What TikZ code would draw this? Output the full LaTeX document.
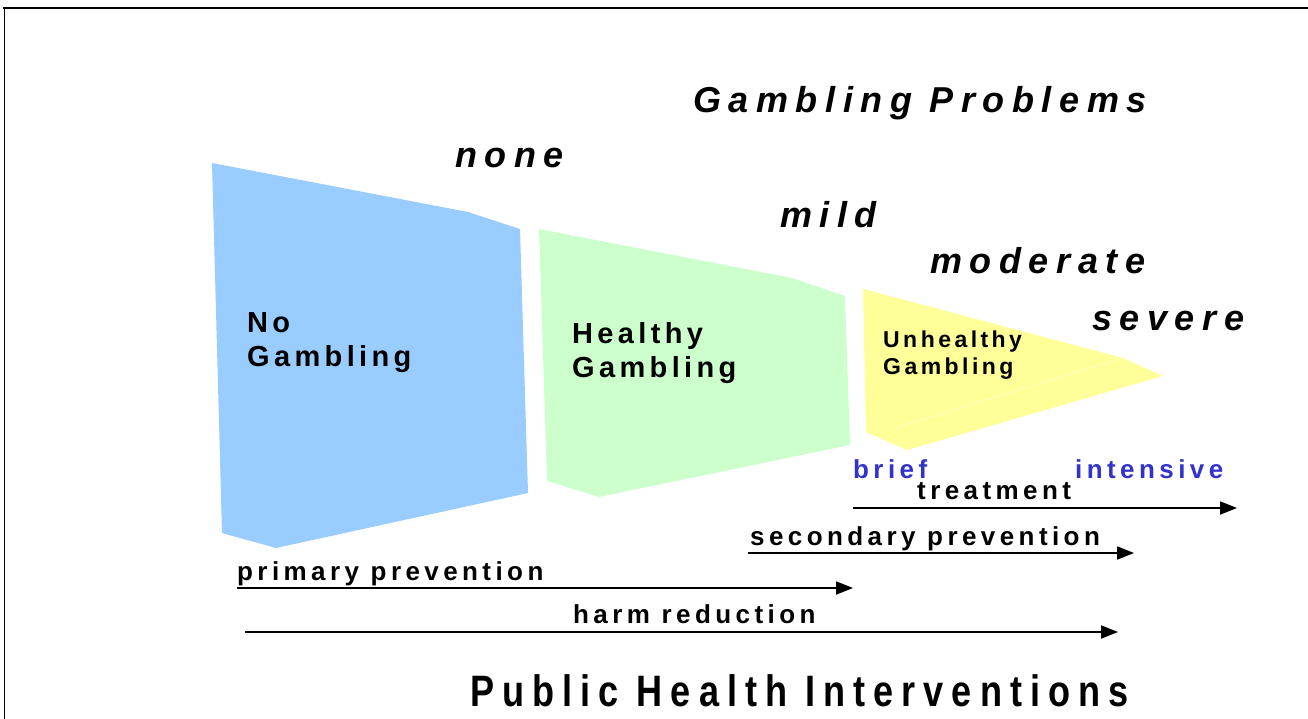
\documentclass[tikz,border=0pt]{standalone}
\usepackage{fontspec}
\setmainfont{Liberation Sans}
\newfontfamily\levelfont[LetterSpace=21]{Liberation Sans}
\newfontfamily\boxfont[LetterSpace=15]{Liberation Sans}
\newfontfamily\armfont[LetterSpace=17]{Liberation Sans}
\newfontfamily\headfont[FakeStretch=0.82,LetterSpace=18.3]{Liberation Sans}
\usetikzlibrary{arrows.meta}
\definecolor{noblue}{HTML}{99CCFF}
\definecolor{okgreen}{HTML}{CCFFCC}
\definecolor{badyellow}{HTML}{FFFF99}
\definecolor{careblue}{HTML}{3333CC}
\tikzset{
	level/.style={anchor=base west,inner sep=0pt,font=\levelfont\fontsize{36}{40}\selectfont\bfseries\itshape},
	boxlabel/.style={anchor=north west,inner sep=0pt,align=left,font=\boxfont\fontsize{29}{34}\selectfont\bfseries},
	armlabel/.style={anchor=base west,inner sep=0pt,font=\armfont\fontsize{26}{30}\selectfont\bfseries},
	arm/.style={-{Triangle[length=17pt,width=13pt]},line width=1.8pt}
}
\begin{document}
\begin{tikzpicture}[x=1pt,y=-1pt]
				%\draw [help lines] (0,0) grid (1308,719);
				\useasboundingbox (0,0) rectangle (1308,719);
				\draw[line width=2pt] (3,8) -- (1308,8);
				\draw[line width=1pt] (4,8) -- (4,719);
				% the three stages
				\fill[noblue] (212,163) -- (468,212) -- (520,229) -- (528,493) -- (276,548) -- (222,533) -- cycle;
				\fill[okgreen] (539,229) -- (792,278) -- (845,296) -- (850,445) -- (599,497) -- (547,481) -- cycle;
				\fill[badyellow] (863,289) -- (1123,358) -- (1163,376) -- (907,450) -- (866,432) -- cycle;
				\draw[line width=0.6pt,badyellow!50!white] (1123,358) -- (895,428);
				\node[boxlabel] (nogamb) at (247,312) {No\\Gambling};
				\node[boxlabel] (okgamb) at (572,322) {Healthy\\Gambling};
				\node[boxlabel,font=\boxfont\fontsize{23}{27}\selectfont\bfseries] (badgamb) at (883,331) {Unhealthy\\Gambling};
				% problem levels
				\node[level] (probs) at (693,113) {Gambling Problems};
				\node[level] (none) at (455,168) {none};
				\node[level] (mild) at (780,228) {mild};
				\node[level] (moderate) at (930,273) {moderate};
				\node[level] (severe) at (1092,330) {severe};
				% interventions
				\node[armlabel,text=careblue] (brief) at (853,478) {brief};
				\node[armlabel,text=careblue] (intensive) at (1075,478) {intensive};
				\node[armlabel] (treat) at (917,499) {treatment};
				\node[armlabel] (second) at (750,545) {secondary prevention};
				\node[armlabel] (primary) at (237,580) {primary prevention};
				\node[armlabel] (harm) at (573,623) {harm reduction};
				\node[anchor=base west,inner sep=0pt,font=\headfont\fontsize{44}{48}\selectfont\bfseries] (interv) at (470,706) {Public Health Interventions};
				\coordinate (treatS) at (853,508);
				\coordinate (treatE) at (1237,508);
				\coordinate (secondS) at (748,553);
				\coordinate (secondE) at (1134,553);
				\coordinate (primaryS) at (237,588);
				\coordinate (primaryE) at (853,588);
				\coordinate (harmS) at (245,632);
				\coordinate (harmE) at (1118,632);
				\draw[arm] (treatS) -- (treatE);
				\draw[arm] (secondS) -- (secondE);
				\draw[arm] (primaryS) -- (primaryE);
				\draw[arm] (harmS) -- (harmE);
\end{tikzpicture}
\end{document}
